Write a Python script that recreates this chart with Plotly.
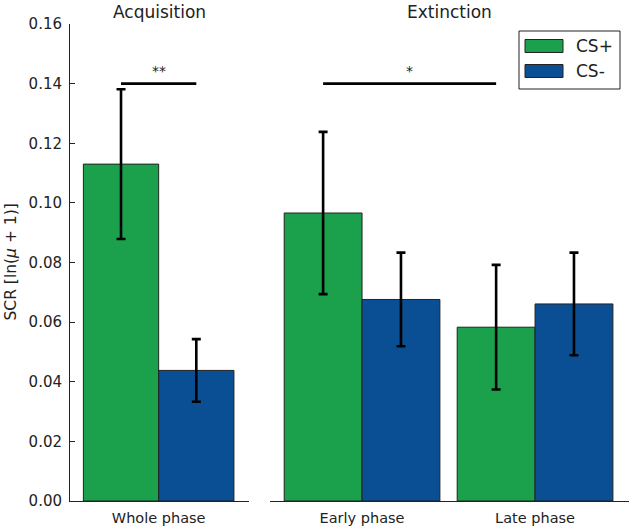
import plotly.graph_objects as go

# data
acq_labels = ["Whole phase"]
acq_cs_plus = [0.1130]
acq_cs_plus_err = [0.0251]
acq_cs_minus = [0.0438]
acq_cs_minus_err = [0.0105]

ext_labels = ["Early phase", "Late phase"]
ext_cs_plus = [0.0966, 0.0583]
ext_cs_plus_err = [0.0272, 0.0209]
ext_cs_minus = [0.0676, 0.0661]
ext_cs_minus_err = [0.0157, 0.0172]

y_ticks = [0.00, 0.02, 0.04, 0.06, 0.08, 0.10, 0.12, 0.14, 0.16]

GREEN = "#1ba14b"
BLUE = "#0a4f94"
FONT = "DejaVu Sans"
W, H = 633, 531
L, R, T, B = 70, 4, 24, 30
BAR_W = 0.45

def px_x(px):
    return (px - L) / (W - L - R)

def px_y(py):
    return (H - B - py) / (H - T - B)

fig = go.Figure()

def add_group(labels, plus, plus_err, minus, minus_err, xa):
    pos = list(range(len(labels)))
    err = dict(type="data", thickness=2.6, width=4.5, color="black")
    fig.add_trace(go.Bar(
        x=[p - BAR_W / 2 for p in pos], y=plus, width=BAR_W,
        error_y=dict(array=plus_err, **err),
        marker=dict(color=GREEN, line=dict(color="#222", width=1)),
        xaxis=xa, yaxis="y", name="CS+", showlegend=False))
    fig.add_trace(go.Bar(
        x=[p + BAR_W / 2 for p in pos], y=minus, width=BAR_W,
        error_y=dict(array=minus_err, **err),
        marker=dict(color=BLUE, line=dict(color="#222", width=1)),
        xaxis=xa, yaxis="y", name="CS-", showlegend=False))

add_group(acq_labels, acq_cs_plus, acq_cs_plus_err, acq_cs_minus, acq_cs_minus_err, "x")
add_group(ext_labels, ext_cs_plus, ext_cs_plus_err, ext_cs_minus, ext_cs_minus_err, "x2")

axis_common = dict(showgrid=False, zeroline=False, showline=True, linecolor="#222",
                   linewidth=1, ticks="", ticklabelstandoff=4,
                   tickfont=dict(family=FONT, size=14.5, color="#222"))

fig.update_layout(
    width=W, height=H,
    margin=dict(l=L, r=R, t=T, b=B),
    plot_bgcolor="white", paper_bgcolor="white",
    barmode="overlay", showlegend=False,
    font=dict(family=FONT, color="#222"),
    xaxis=dict(domain=[0, px_x(249)], range=[-0.53, 0.54],
               tickvals=list(range(len(acq_labels))), ticktext=acq_labels, **axis_common),
    xaxis2=dict(domain=[px_x(270), 1], range=[-0.532, 1.543], anchor="y",
                tickvals=list(range(len(ext_labels))), ticktext=ext_labels, **axis_common),
    yaxis=dict(range=[0, 0.16], tickvals=y_ticks, tickformat=".2f",
               showgrid=False, zeroline=False, showline=True, linecolor="#222", linewidth=1,
               ticks="inside", ticklen=5, tickcolor="#222", ticklabelstandoff=4,
               tickfont=dict(family=FONT, size=15, color="#222")),
    yaxis2=dict(range=[0, 0.16], tickvals=y_ticks, showticklabels=False, overlaying="y",
                anchor="x2", showgrid=False, zeroline=False, showline=True, linecolor="#222",
                linewidth=1, ticks="inside", ticklen=5, tickcolor="#222"),
)

shapes = []
annotations = []

# significance bars
shapes.append(dict(type="line", xref="x", yref="y", x0=-BAR_W / 2, x1=BAR_W / 2,
                   y0=0.14, y1=0.14, line=dict(color="black", width=2.6)))
annotations.append(dict(text="**", xref="x", yref="y", x=0, y=0.14, xanchor="center",
                        yanchor="bottom", showarrow=False, yshift=3, font=dict(size=14)))
shapes.append(dict(type="line", xref="x2", yref="y", x0=-BAR_W / 2, x1=1 - BAR_W / 2,
                   y0=0.14, y1=0.14, line=dict(color="black", width=2.6)))
annotations.append(dict(text="*", xref="x2", yref="y", x=(1 - BAR_W) / 2, y=0.14,
                        xanchor="center", yanchor="bottom", showarrow=False, yshift=3,
                        font=dict(size=14)))

# panel titles
for title, cx in [("Acquisition", 159.5), ("Extinction", 449)]:
    annotations.append(dict(text=title, xref="paper", yref="paper", x=px_x(cx), y=px_y(12),
                            xanchor="center", yanchor="middle", showarrow=False,
                            font=dict(size=17)))

# y title
annotations.append(dict(text="SCR [ln(<i>μ</i> + 1)]", xref="paper", yref="paper",
                        x=px_x(10), y=0.5, xanchor="center", yanchor="middle",
                        textangle=-90, showarrow=False, font=dict(size=15.5)))

# legend box drawn by hand (matplotlib-style wide patches)
shapes.append(dict(type="rect", xref="paper", yref="paper", x0=px_x(519), x1=px_x(620),
                   y0=px_y(89), y1=px_y(31), line=dict(color="#222", width=1),
                   fillcolor="white"))
for name, col, cy in [("CS+", GREEN, 46), ("CS-", BLUE, 71)]:
    shapes.append(dict(type="rect", xref="paper", yref="paper", x0=px_x(525), x1=px_x(563),
                       y0=px_y(cy + 6.5), y1=px_y(cy - 6.5), fillcolor=col,
                       line=dict(color="#222", width=1)))
    annotations.append(dict(text=name, xref="paper", yref="paper", x=px_x(574), y=px_y(cy),
                            xanchor="left", yanchor="middle", showarrow=False,
                            font=dict(size=17)))

fig.update_layout(shapes=shapes, annotations=annotations)

fig.write_html("out.html", config={"displayModeBar": False},
               post_script="document.body.style.margin='0';document.body.style.overflow='hidden';")
